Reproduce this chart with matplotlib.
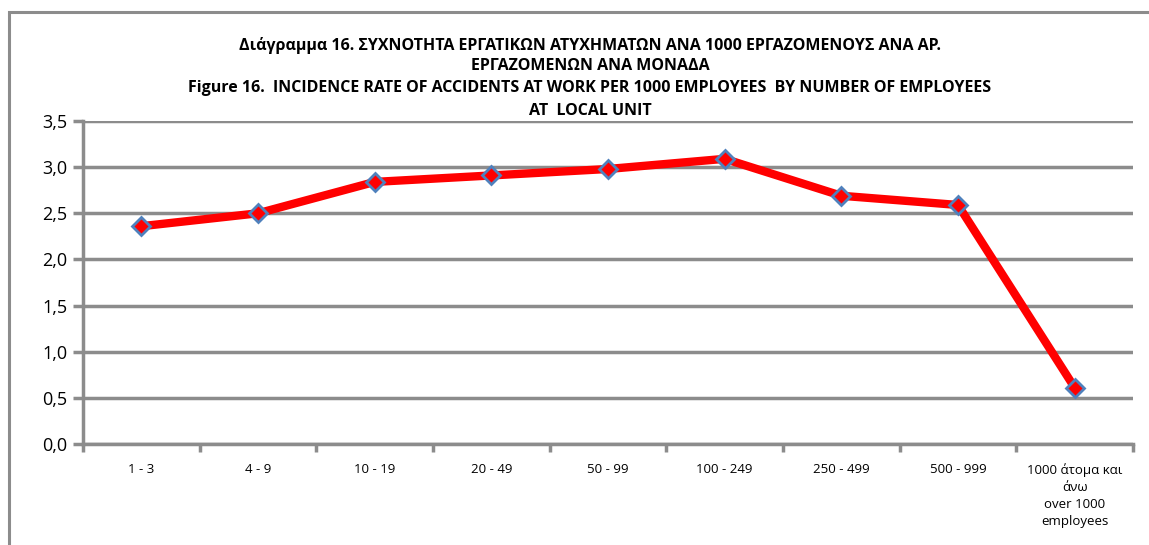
import matplotlib.pyplot as plt
from matplotlib.patches import Rectangle

categories = ['1 - 3', '4 - 9', '10 - 19', '20 - 49', '50 - 99', '100 - 249',
              '250 - 499', '500 - 999', '1000 άτομα και\nάνω\nover 1000\nemployees']
rates = [2.36, 2.50, 2.84, 2.91, 2.98, 3.09, 2.69, 2.59, 0.61]
yticks = [0.0, 0.5, 1.0, 1.5, 2.0, 2.5, 3.0, 3.5]

title_lines = [
    'Διάγραμμα 16. ΣΥΧΝΟΤΗΤΑ ΕΡΓΑΤΙΚΩΝ ΑΤΥΧΗΜΑΤΩΝ ΑΝΑ 1000 ΕΡΓΑΖΟΜΕΝΟΥΣ ΑΝΑ ΑΡ.',
    'ΕΡΓΑΖΟΜΕΝΩΝ ΑΝΑ ΜΟΝΑΔΑ',
    'Figure 16.  INCIDENCE RATE OF ACCIDENTS AT WORK PER 1000 EMPLOYEES  BY NUMBER OF EMPLOYEES',
    'AT  LOCAL UNIT',
]

plt.rcParams['font.family'] = ['Open Sans', 'DejaVu Sans']
grid_col = '#8c8c8c'

fig = plt.figure(figsize=(11.49, 5.45), dpi=100)
# outer chart frame
fig.patches.append(Rectangle((9 / 1149, -0.2), 1.5, 1.2 - 12 / 545, transform=fig.transFigure,
                             fill=False, edgecolor='#8c8c8c', linewidth=2.2, zorder=0))

ax = fig.add_axes([83 / 1149, 1 - 444 / 545, (1133 - 83) / 1149, (444 - 121) / 545])
x = list(range(len(categories)))
ax.plot(x, rates, color='#ff0000', linewidth=6, zorder=3,
        marker='D', markersize=9, markerfacecolor='#ff0000',
        markeredgecolor='#4f81bd', markeredgewidth=2)

ax.set_xlim(-0.5, len(categories) - 0.5)
ax.set_ylim(0, 3.5)
ax.set_yticks(yticks)
ax.set_yticklabels([('%.1f' % v).replace('.', ',') for v in yticks], fontsize=13)
ax.yaxis.grid(True, color=grid_col, linewidth=2.5)
ax.set_axisbelow(True)

ax.set_xticks(x)
ax.set_xticklabels(categories, fontsize=9.5, linespacing=1.4)
ax.set_xticks([i - 0.5 for i in range(len(categories) + 1)], minor=True)
ax.tick_params(axis='x', which='major', length=0, pad=14)
ax.tick_params(axis='x', which='minor', length=6, width=2.5, color=grid_col)
ax.tick_params(axis='y', length=7, width=2.5, color=grid_col, pad=4)

for side in ['top', 'right']:
    ax.spines[side].set_visible(False)
for side in ['left', 'bottom']:
    ax.spines[side].set_color(grid_col)
    ax.spines[side].set_linewidth(2.5)

ys = [46, 66, 88, 111]
for line, yy in zip(title_lines, ys):
    fig.text(590 / 1149, 1 - yy / 545, line, ha='center', va='center',
             fontsize=11.5, fontweight='bold', family=['Open Sans', 'DejaVu Sans'])

fig.savefig('out.png', dpi=100)
